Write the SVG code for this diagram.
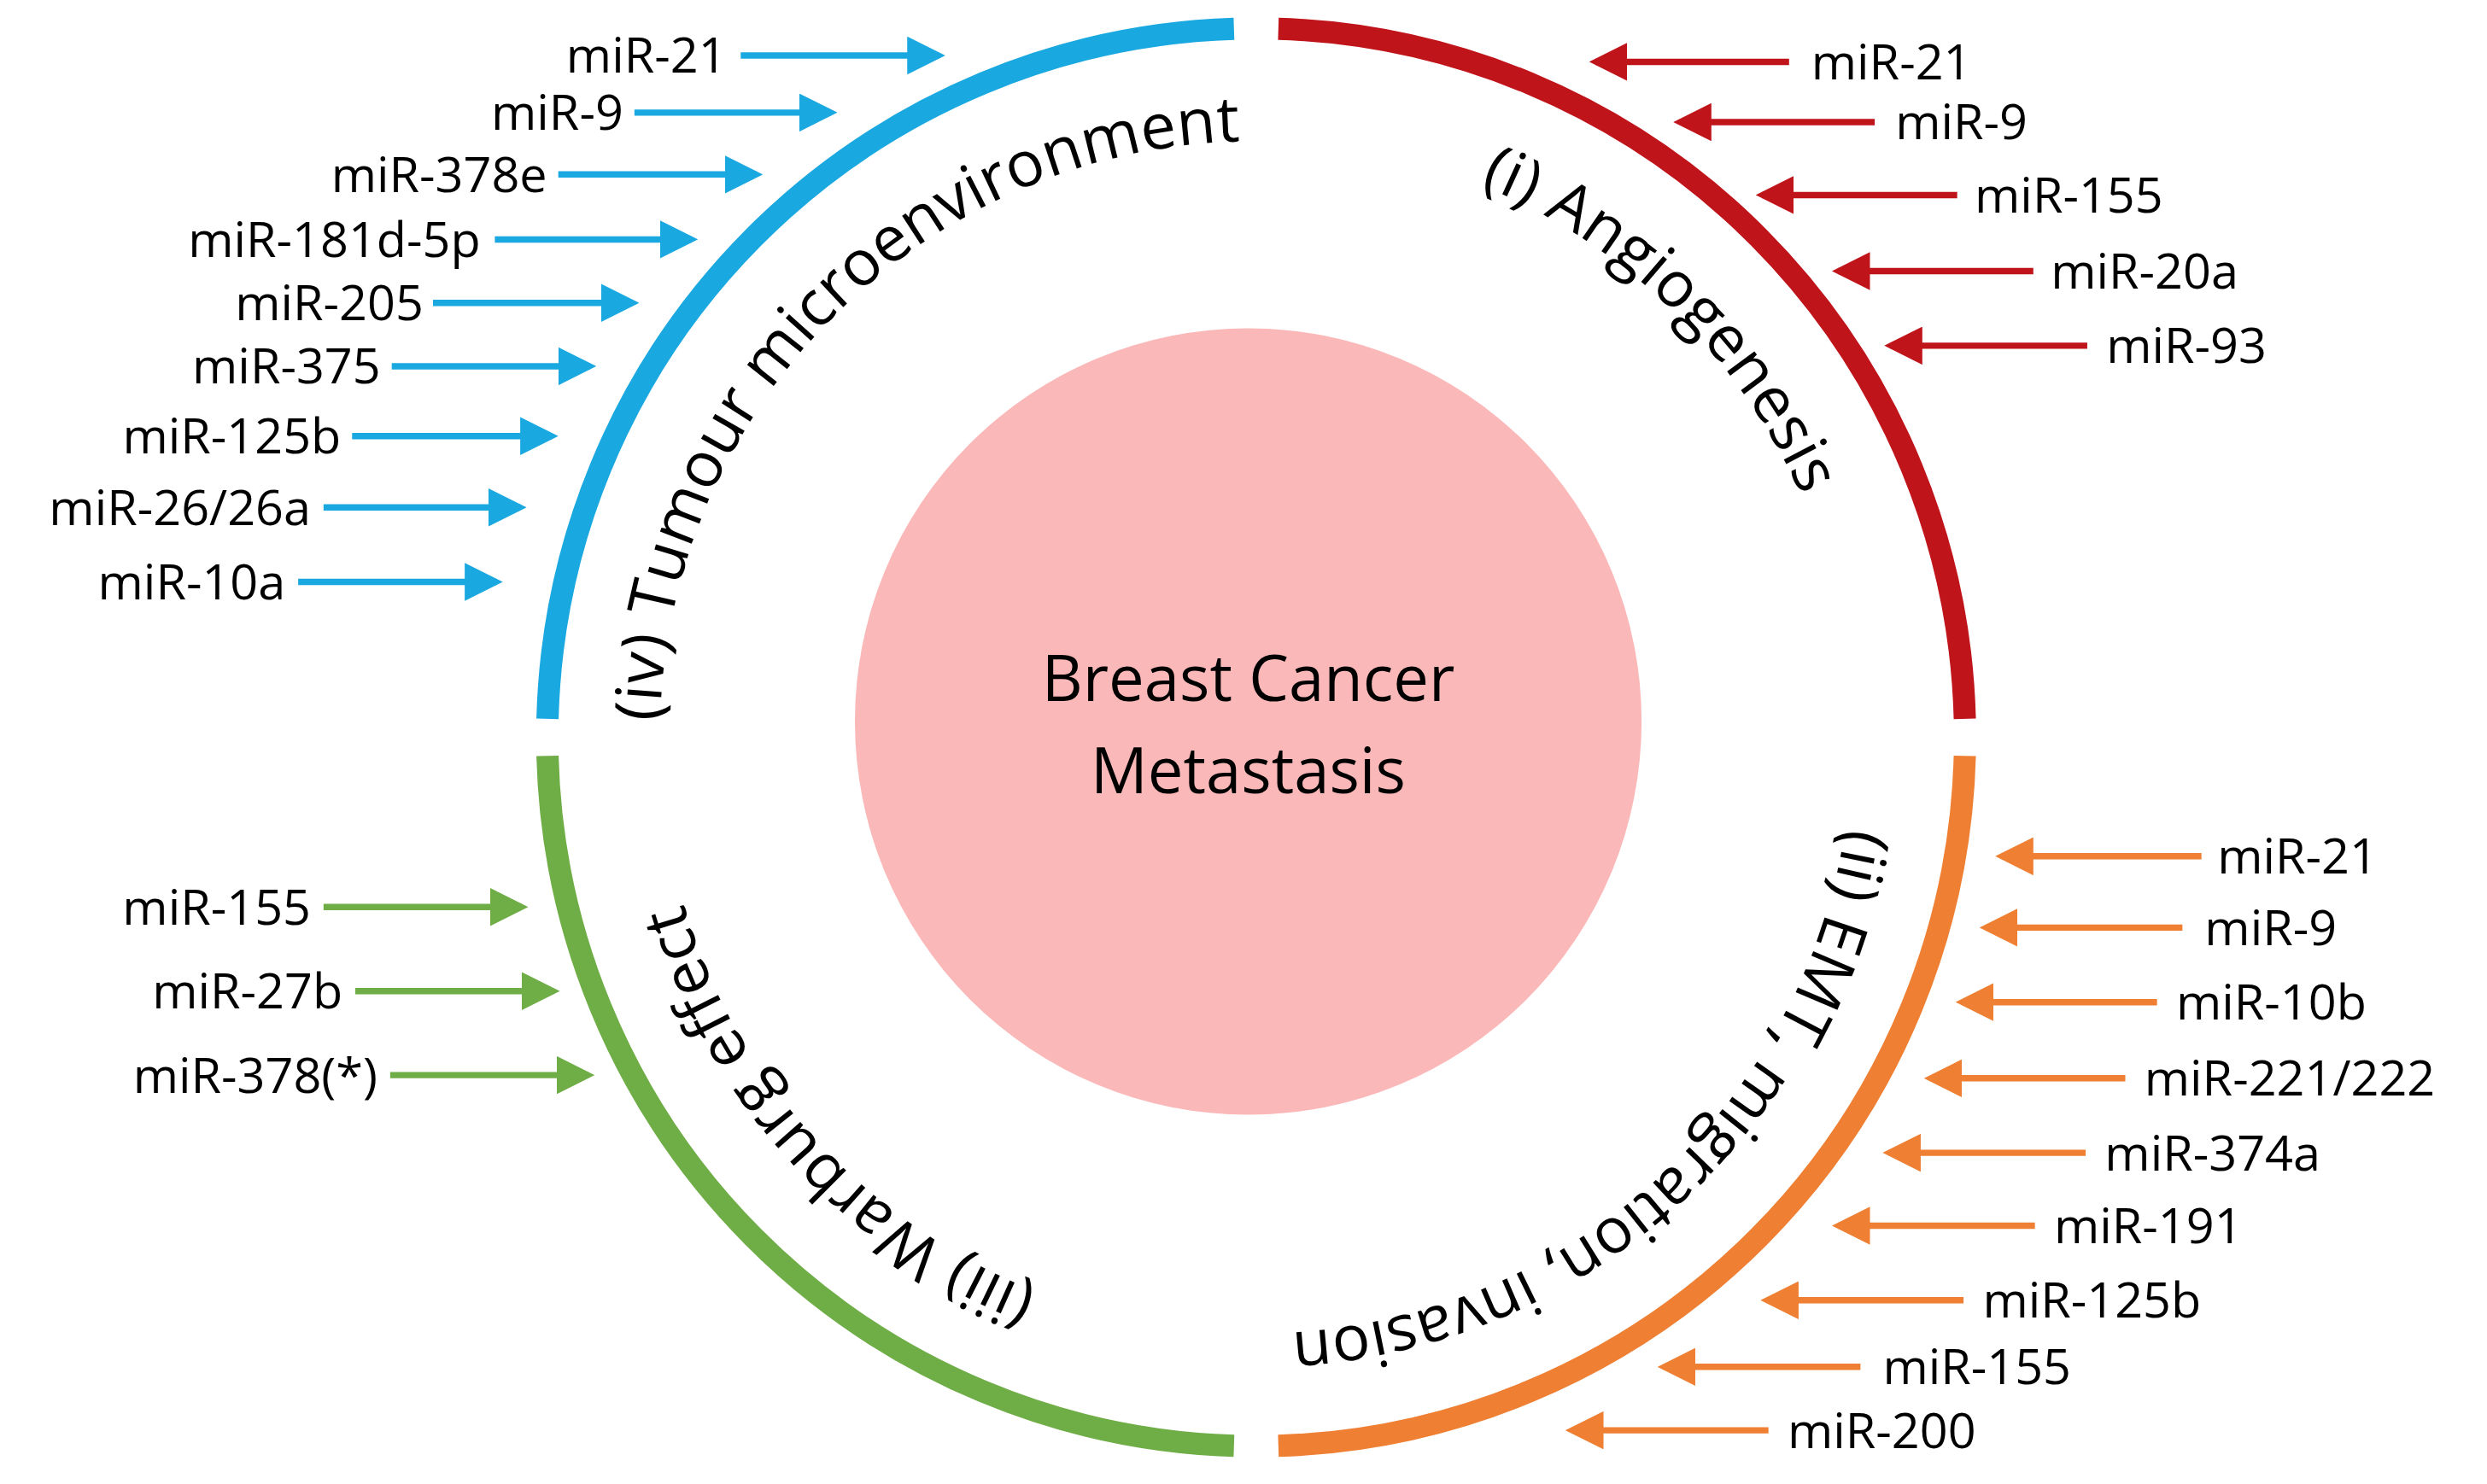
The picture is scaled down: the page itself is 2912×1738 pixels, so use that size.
<svg xmlns="http://www.w3.org/2000/svg" width="2912" height="1738" viewBox="0 0 2912 1738">
<style>
.lbl{font-family:"Open Sans","Liberation Sans",sans-serif;font-size:31px;fill:#000}
.arc{fill:none;stroke-width:14}
.ct{font-family:"Open Sans","Liberation Sans",sans-serif;font-size:40px;fill:#000}
.b{stroke:#1aa8e0}.r{stroke:#c0141b}.o{stroke:#ee7f33}.g{stroke:#6fad47}
.ar{stroke-width:4;fill:none}
</style>
<defs>
<marker id="mb" markerWidth="6" markerHeight="6" refX="5" refY="3" orient="auto" markerUnits="strokeWidth"><path d="M0,0L6,3L0,6z" fill="#1aa8e0"/></marker>
<marker id="mr" markerWidth="6" markerHeight="6" refX="5" refY="3" orient="auto" markerUnits="strokeWidth"><path d="M0,0L6,3L0,6z" fill="#c0141b"/></marker>
<marker id="mo" markerWidth="6" markerHeight="6" refX="5" refY="3" orient="auto" markerUnits="strokeWidth"><path d="M0,0L6,3L0,6z" fill="#ee7f33"/></marker>
<marker id="mg" markerWidth="6" markerHeight="6" refX="5" refY="3" orient="auto" markerUnits="strokeWidth"><path d="M0,0L6,3L0,6z" fill="#6fad47"/></marker>
<path id="tpB" d="M416,465 A376,376 0 0 1 792,89"/>
<path id="tpR" d="M792,89 A376,376 0 0 1 1168,465"/>
<path id="tpO" d="M1168,465 A376,376 0 0 1 792,841"/>
<path id="tpG" d="M792,841 A376,376 0 0 1 416,465"/>
</defs>
<g transform="scale(1.8571)">
<g id="center">
<circle cx="787" cy="455" r="248" fill="#fbb8b9"/>
<text class="ct" x="787" y="442" text-anchor="middle" font-size="41" font-weight="500">Breast Cancer</text>
<text class="ct" x="787" y="500" text-anchor="middle" font-size="41" font-weight="500">Metastasis</text>
</g>
<g id="ring-iv">
<path class="arc b" d="M345.2,453.3 A447,447 0 0 1 778,18.2"/>
<text class="ct"><textPath href="#tpB" startOffset="50%" text-anchor="middle">(iv) Tumour microenvironment</textPath></text>
</g>
<g id="ring-i">
<path class="arc r" d="M806,18.2 A447,447 0 0 1 1238.8,453.3"/>
<text class="ct"><textPath href="#tpR" startOffset="49%" text-anchor="middle">(i) Angiogenesis</textPath></text>
</g>
<g id="ring-ii">
<path class="arc o" d="M1238.8,476.7 A447,447 0 0 1 806,911.8"/>
<text class="ct"><textPath href="#tpO" startOffset="53%" text-anchor="middle">(ii) EMT, migration, invasion</textPath></text>
</g>
<g id="ring-iii">
<path class="arc g" d="M778,911.8 A447,447 0 0 1 345.2,476.7"/>
<text class="ct"><textPath href="#tpG" startOffset="53%" text-anchor="middle">(iii) Warburg effect</textPath></text>
</g>
<g id="labels">
<g text-anchor="end" class="lbl">
<text x="458" y="46">miR-21</text><text x="393" y="82">miR-9</text><text x="345" y="121">miR-378e</text>
<text x="303" y="162">miR-181d-5p</text><text x="267" y="202">miR-205</text><text x="240" y="242">miR-375</text>
<text x="215" y="286">miR-125b</text><text x="196" y="331">miR-26/26a</text><text x="180" y="378">miR-10a</text>
<text x="196" y="583">miR-155</text><text x="216" y="636">miR-27b</text><text x="238" y="689">miR-378(*)</text>
</g>
<g class="lbl">
<text x="1142" y="50">miR-21</text><text x="1195" y="88">miR-9</text><text x="1245" y="134">miR-155</text>
<text x="1293" y="182">miR-20a</text><text x="1328" y="229">miR-93</text>
<text x="1398" y="551">miR-21</text><text x="1390" y="596">miR-9</text><text x="1372" y="643">miR-10b</text>
<text x="1352" y="691">miR-221/222</text><text x="1327" y="738">miR-374a</text><text x="1295" y="784">miR-191</text>
<text x="1250" y="831">miR-125b</text><text x="1187" y="873">miR-155</text><text x="1127" y="913">miR-200</text>
</g>
</g>
<g id="connectors" class="ar">
<g class="b" marker-end="url(#mb)">
<path d="M467,35H592"/><path d="M400,71H524"/><path d="M352,110H477"/><path d="M312,151H436"/>
<path d="M273,191H399"/><path d="M247,231H372"/><path d="M222,275H348"/><path d="M204,320H328"/><path d="M188,367H313"/>
</g>
<g class="g" marker-end="url(#mg)">
<path d="M204,572H329"/><path d="M224,625H349"/><path d="M246,678H371"/>
</g>
<g class="r" marker-end="url(#mr)">
<path d="M1128,39H1006"/><path d="M1182,77H1059"/><path d="M1234,123H1111"/><path d="M1282,171H1159"/><path d="M1316,218H1192"/>
</g>
<g class="o" marker-end="url(#mo)">
<path d="M1388,540H1262"/><path d="M1376,585H1252"/><path d="M1360,632H1237"/><path d="M1340,680H1217"/>
<path d="M1315,727H1191"/><path d="M1283,773H1159"/><path d="M1238,820H1114"/><path d="M1173,862H1049"/><path d="M1115,902H991"/>
</g>
</g>
</g>
</svg>
